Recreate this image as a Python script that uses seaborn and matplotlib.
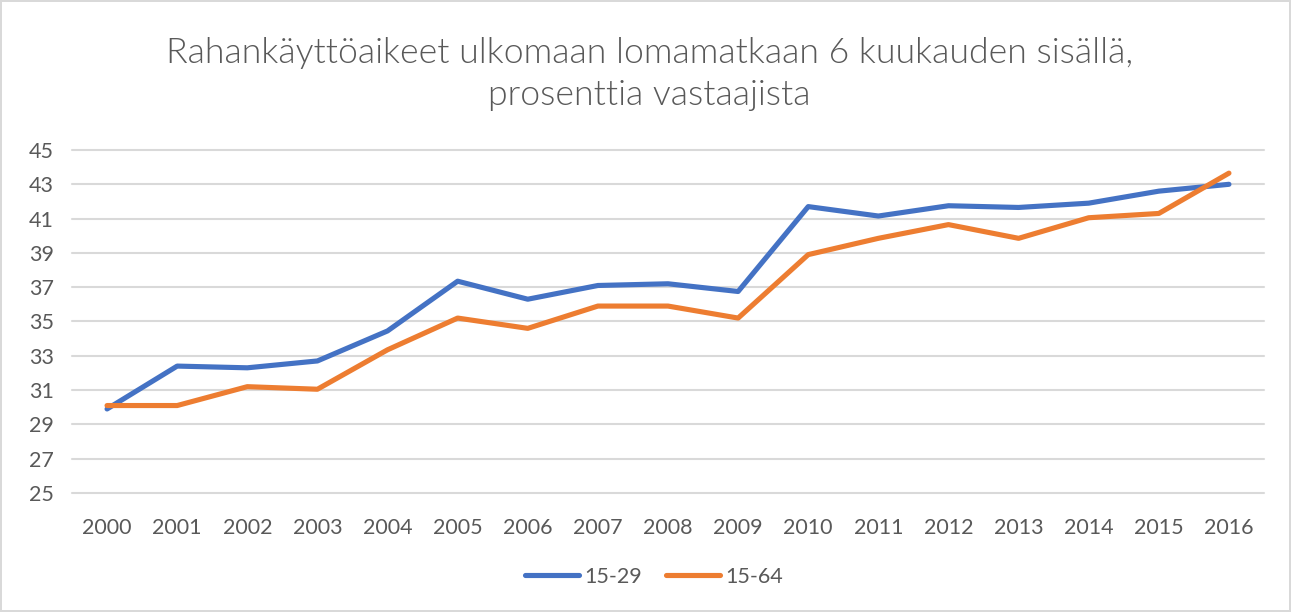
import matplotlib
matplotlib.use("Agg")
import matplotlib.pyplot as plt
from matplotlib.lines import Line2D
import seaborn as sns
import pandas as pd

years = [str(y) for y in range(2000, 2017)]
age_15_29 = [29.9, 32.4, 32.3, 32.7, 34.45, 37.35, 36.3, 37.1, 37.2, 36.75,
             41.7, 41.15, 41.75, 41.65, 41.9, 42.6, 43.0]
age_15_64 = [30.1, 30.1, 31.2, 31.05, 33.35, 35.2, 34.6, 35.9, 35.9, 35.2,
             38.9, 39.85, 40.65, 39.85, 41.05, 41.3, 43.65]
series_names = ["15-29", "15-64"]
y_ticks = list(range(25, 46, 2))
title = "Rahankäyttöaikeet ulkomaan lomamatkaan 6 kuukauden sisällä,\nprosenttia vastaajista"

df = pd.DataFrame({
    "vuosi": years * 2,
    "arvo": age_15_29 + age_15_64,
    "ryhmä": [series_names[0]] * len(years) + [series_names[1]] * len(years),
})

sns.set_theme(style="white")
plt.rcParams["font.family"] = ["Lato", "DejaVu Sans"]

text_color = "#595959"
grid_color = "#D9D9D9"
palette = {"15-29": "#4472C4", "15-64": "#ED7D31"}

fig = plt.figure(figsize=(12.91, 6.12), dpi=100)
fig.patch.set_facecolor("white")
fig.patch.set_edgecolor(grid_color)
fig.patch.set_linewidth(1.5)

W, H = 1291, 612
left, right, top, bottom = 72, 1264, 150, 493
ax = fig.add_axes([left / W, 1 - bottom / H, (right - left) / W, (bottom - top) / H])

sns.lineplot(data=df, x="vuosi", y="arvo", hue="ryhmä", palette=palette,
             linewidth=3.7, ax=ax, sort=False, legend=False)
for line in ax.lines:
    line.set_solid_joinstyle("round")
    line.set_solid_capstyle("round")

ax.set_xlim(-0.5, len(years) - 0.5)
ax.set_ylim(25, 45)
ax.set_yticks(y_ticks)
ax.set_yticklabels([str(t) for t in y_ticks])
ax.yaxis.grid(True, color=grid_color, linewidth=1.5)
for gl in ax.get_ygridlines():
    gl.set_clip_on(False)
ax.set_axisbelow(True)
for s in ax.spines.values():
    s.set_visible(False)
ax.set_xlabel("")
ax.set_ylabel("")
ax.tick_params(axis="both", length=0, labelsize=15.5, labelcolor=text_color)
ax.tick_params(axis="y", pad=13)
ax.tick_params(axis="x", pad=18)

fig.text(0.503, 1 - 74 / H, title, ha="center", va="center", fontsize=25.7,
         color=text_color, linespacing=1.38, fontweight=300)

handles = [Line2D([], [], color=palette[n], linewidth=3.7, solid_capstyle="round")
           for n in series_names]
fig.legend(handles, series_names, loc="center", bbox_to_anchor=(654 / W, 1 - 577 / H),
           ncol=2, frameon=False, fontsize=15.5, labelcolor=text_color,
           handlelength=2.5, handletextpad=0.25, columnspacing=1.1)

fig.savefig("out.png", dpi=100, facecolor=fig.get_facecolor(), edgecolor=fig.get_edgecolor())
